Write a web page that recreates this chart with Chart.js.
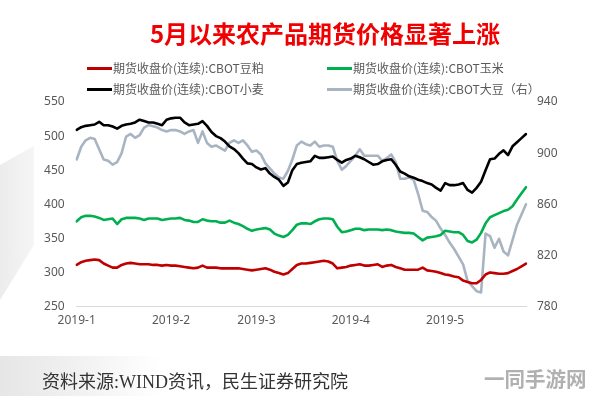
<!DOCTYPE html>
<html lang="zh">
<head>
  <meta charset="UTF-8">
  <title>5月以来农产品期货价格显著上涨</title>
  <script src="https://cdn.jsdelivr.net/npm/chart.js"></script>
  <style>
    html, body { margin: 0; padding: 0; background: #fff; }
    #page { position: relative; width: 594px; height: 396px; overflow: hidden; font-family: "Noto Sans CJK SC", "Noto Sans", sans-serif; }
    #shapeLeft { position: absolute; left: 0; top: 0; width: 40px; height: 396px;
      background: linear-gradient(to right, #ececec, #f7f7f7);
      clip-path: polygon(0 165px, 34px 146px, 34px 245px, 0 300px); }
    #shapeBottom { position: absolute; left: 0; top: 356px; width: 160px; height: 40px;
      background: linear-gradient(to right, #e6e6e6, #f4f4f4 60%, #fff); }
    #chartBox { position: absolute; left: 0; top: 0; }
    #title { position: absolute; left: 0; width: 650px; top: 17px; text-align: center;
      color: #f00000; font-size: 24px; font-weight: bold; line-height: 32px; }
    .leg { position: absolute; font-size: 12px; color: #595959; line-height: 16px; white-space: nowrap; }
    .leg i { display: inline-block; width: 25px; height: 3px; vertical-align: middle; margin-right: 1px; position: relative; top: -1px; }
    #source { position: absolute; left: 42px; top: 369px; font-size: 18px; color: #333;
      font-family: "Liberation Serif", "Noto Sans CJK SC", serif; line-height: 26px; }
    #mark { position: absolute; left: 484px; top: 364px; font-size: 20.5px; font-weight: bold; color: #b0b0b0; line-height: 28px; }
  </style>
</head>
<body>
<div id="page">
  <div id="shapeLeft"></div>
  <div id="shapeBottom"></div>
  <div id="chartBox"><canvas id="myChart" width="594" height="396"></canvas></div>
  <div id="title">5月以来农产品期货价格显著上涨</div>
  <div id="legend"></div>
  <div id="source">资料来源:WIND资讯，民生证券研究院</div>
  <div id="mark">一同手游网</div>
</div>

<script>
  // month labels and trading days per month (Jan 2 - May 28, 2019)
  const months = ['2019-1', '2019-2', '2019-3', '2019-4', '2019-5'];
  const tradingDays = [21, 19, 21, 21, 19];

  const seriesNames = [
    '期货收盘价(连续):CBOT豆粕',
    '期货收盘价(连续):CBOT玉米',
    '期货收盘价(连续):CBOT小麦',
    '期货收盘价(连续):CBOT大豆（右）'
  ];
  const seriesColors = ['#c00000', '#00b050', '#000000', '#a9b4c2'];

  const leftTicks = [250, 300, 350, 400, 450, 500, 550];
  const rightTicks = [780, 820, 860, 900, 940];

  // CBOT soymeal (left)
  const soymeal = [
    311, 315, 317, 318, 319, 318, 313, 310, 307, 307, 311, 313, 314, 313, 312, 312, 312, 311, 311, 310, 311, 310, 310, 309, 308,
    307, 306, 307, 310, 307, 307, 307, 306, 306, 306, 306, 306, 305, 304, 303, 304, 305, 306, 304, 301, 299, 297, 299, 305, 311,
    313, 313, 314, 315, 316, 317, 316, 313, 306, 307, 308, 310, 311, 312, 310, 310, 311, 312, 308, 310, 311, 308, 306, 304, 304,
    304, 304, 307, 303, 302, 301, 299, 297, 296, 294, 293, 288, 286, 284, 284, 289, 297, 300, 299, 298, 298, 299, 302, 305, 309, 313
  ];
  // CBOT corn (left)
  const corn = [
    375, 381, 383, 383, 382, 380, 377, 378, 379, 371, 378, 380, 380, 380, 379, 377, 379, 379, 379, 377, 378, 379, 379, 380, 377,
    376, 374, 374, 378, 376, 375, 375, 373, 373, 376, 373, 371, 368, 364, 361, 363, 364, 365, 363, 357, 354, 352, 355, 362, 370,
    372, 372, 371, 375, 378, 379, 379, 378, 367, 359, 360, 362, 364, 364, 362, 363, 363, 363, 362, 363, 362, 360, 359, 358, 358,
    357, 352, 347, 351, 352, 353, 355, 361, 360, 359, 359, 355, 346, 344, 348, 358, 372, 381, 384, 387, 390, 392, 397, 407, 416, 425
  ];
  // CBOT wheat (left)
  const wheat = [
    509, 513, 515, 516, 517, 521, 516, 516, 514, 511, 515, 517, 518, 520, 524, 522, 520, 520, 518, 516, 524, 526, 527, 527, 520,
    516, 517, 518, 522, 515, 506, 500, 497, 492, 485, 481, 475, 467, 460, 459, 454, 451, 453, 445, 440, 436, 427, 432, 450, 459,
    461, 462, 463, 471, 468, 468, 469, 470, 465, 461, 465, 467, 471, 469, 466, 462, 458, 459, 463, 465, 466, 458, 448, 445, 441,
    439, 436, 434, 431, 429, 424, 420, 431, 428, 428, 429, 431, 421, 417, 424, 433, 450, 466, 467, 474, 479, 472, 485, 491, 497, 503
  ];
  // CBOT soybean (right)
  const soybean = [
    895, 905, 910, 912, 911, 903, 895, 894, 891, 893, 900, 913, 915, 912, 914, 920, 922, 921, 920, 918, 917, 918, 918, 917, 915,
    917, 918, 908, 917, 908, 905, 906, 904, 902, 908, 910, 908, 910, 906, 901, 902, 899, 892, 888, 884, 881, 880, 886, 895, 906,
    909, 907, 906, 909, 905, 906, 906, 905, 894, 887, 890, 894, 898, 903, 898, 898, 898, 898, 894, 896, 899, 893, 880, 880, 881,
    879, 868, 855, 854, 850, 847, 841, 836, 830, 825, 819, 813, 800, 796, 792, 791, 837, 835, 826, 833, 823, 820, 832, 844, 852, 860
  ];

  const labels = [];
  months.forEach((m, k) => {
    for (let d = 0; d < tradingDays[k]; d++) labels.push(d === 0 ? m : '');
  });

  // legend (two columns)
  const legendPos = [[87, 60], [327, 60], [87, 81], [327, 81]];
  const legendBox = document.getElementById('legend');
  seriesNames.forEach((name, k) => {
    const el = document.createElement('div');
    el.className = 'leg';
    el.style.left = legendPos[k][0] + 'px';
    el.style.top = legendPos[k][1] + 'px';
    el.innerHTML = '<i style="background:' + seriesColors[k] + '"></i>' + name;
    legendBox.appendChild(el);
  });

  const tickFont = { family: 'Noto Sans', size: 12 };
  const tickColor = '#595959';

  var ctx = document.getElementById('myChart').getContext('2d');
  var myChart = new Chart(ctx, {
    type: 'line',
    data: {
      labels: labels,
      datasets: [
        { label: seriesNames[0], data: soymeal, borderColor: seriesColors[0], yAxisID: 'y' },
        { label: seriesNames[1], data: corn, borderColor: seriesColors[1], yAxisID: 'y' },
        { label: seriesNames[2], data: wheat, borderColor: seriesColors[2], yAxisID: 'y' },
        { label: seriesNames[3], data: soybean, borderColor: seriesColors[3], yAxisID: 'y1' }
      ]
    },
    options: {
      responsive: false,
      animation: false,
      layout: { padding: { top: 102, left: 0, right: 0, bottom: 0 } },
      elements: {
        line: { borderWidth: 2.6, tension: 0, fill: false, borderJoinStyle: 'round', borderCapStyle: 'round' },
        point: { radius: 0 }
      },
      plugins: { legend: { display: false }, tooltip: { enabled: false } },
      scales: {
        x: {
          grid: { display: false, drawTicks: false },
          border: { display: true, color: '#d9d9d9', width: 1 },
          ticks: {
            autoSkip: false, maxRotation: 0, padding: 7, color: tickColor, font: tickFont,
            callback: function (v, i) { return labels[i] ? labels[i] : null; }
          },
          afterFit: function (s) { s.height = 89.5; }
        },
        y: {
          position: 'left',
          min: leftTicks[0], max: leftTicks[leftTicks.length - 1],
          grid: { display: false, drawTicks: false },
          border: { display: false },
          ticks: { stepSize: 50, padding: 12, color: tickColor, font: tickFont },
          afterBuildTicks: function (s) { s.ticks = leftTicks.map(v => ({ value: v })); },
          afterFit: function (s) { s.width = 76.7; }
        },
        y1: {
          position: 'right',
          min: rightTicks[0], max: rightTicks[rightTicks.length - 1],
          grid: { display: false, drawTicks: false },
          border: { display: false },
          ticks: { stepSize: 40, padding: 11, color: tickColor, font: tickFont },
          afterBuildTicks: function (s) { s.ticks = rightTicks.map(v => ({ value: v })); },
          afterFit: function (s) { s.width = 68; }
        }
      }
    }
  });
</script>
</body>
</html>
